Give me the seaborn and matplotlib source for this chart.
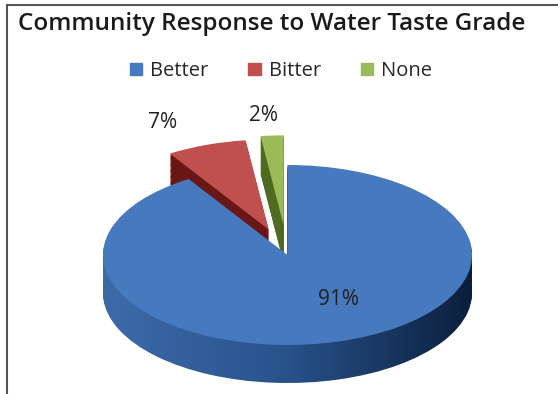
import numpy as np
import matplotlib.pyplot as plt
from matplotlib.lines import Line2D
from matplotlib.patches import Patch
from matplotlib.colors import LinearSegmentedColormap
import seaborn as sns

# Survey result: community response to water taste grade (percent)
labels = ['Better', 'Bitter', 'None']
shares = [91, 7, 2]

# styling
explode = [0.0, 0.3, 0.33]
top_colors = ['#4679BD', '#C0504D', '#9BBB59']
side_colors = ['#2A5288', '#6B1616', '#4F6B22']
label_dist = [0.57, 1.32, 1.23]
label_turn = [13, 6, 1.6]   # degrees, nudges label off the wedge middle

sns.set_theme(style='white')
plt.rcParams['font.family'] = ['Open Sans', 'DejaVu Sans']

fig = plt.figure(figsize=(5.58, 3.94), dpi=100)
ax = fig.add_axes([0, 0, 1, 1])

side_cmap = LinearSegmentedColormap.from_list('side', ['#3D6BAA', '#28528A', '#0B1F3D'])
grad = np.linspace(0, 1, 256).reshape(1, -1)

# fake 3D: stack darker copies of the pie downward, then the top face
depth = 38 / 90
n_layers = 32
for k in range(n_layers, 0, -1):
    z = 2 * (n_layers - k) + 1
    ws, _ = ax.pie(shares, explode=explode, colors=side_colors, startangle=90,
                   counterclock=False, center=(0, -depth * k / n_layers),
                   wedgeprops=dict(linewidth=0))
    for w in ws:
        w.set_zorder(z)
    # horizontal shading on the big slice's rim
    ws[0].set_facecolor('none')
    im = ax.imshow(grad, cmap=side_cmap, extent=(-1, 1, -2, 1.5), aspect='auto',
                   interpolation='bilinear', zorder=z + 0.5)
    im.set_clip_path(ws[0])

wedges, _ = ax.pie(shares, explode=explode, colors=top_colors, startangle=90,
                   counterclock=False, wedgeprops=dict(linewidth=0))
for w in wedges:
    w.set_zorder(2 * n_layers + 2)

for w, v, d, t in zip(wedges, shares, label_dist, label_turn):
    mid = np.deg2rad((w.theta1 + w.theta2) / 2 + t)
    cx, cy = w.center
    ax.text(cx + d * np.cos(mid), cy + d * np.sin(mid), f'{v}%',
            ha='center', va='center', fontsize=15, color='#222222',
            zorder=2 * n_layers + 5)

# squash circle into ellipse (tilted view)
ax.set_aspect('auto')
ax.set_xlim(-287.5 / 184.5, (558 - 287.5) / 184.5)
ax.set_ylim(-(394 - 255) / 90, 255 / 90)
ax.axis('off')

fig.text(271.5 / 558, 1 - 24 / 394, 'Community Response to Water Taste Grade',
         ha='center', va='center', fontsize=17.5, fontweight='semibold',
         color='#1a1a1a')

handles = [Patch(color=c) for c in top_colors]
fig.legend(handles, labels, loc='center', bbox_to_anchor=(281 / 558, 1 - 71 / 394),
           ncol=3, frameon=False, fontsize=14.5, handlelength=0.6, handleheight=0.6,
           columnspacing=2.0, handletextpad=0.4)

# chart border (top and left edges visible in the crop)
fig.add_artist(Line2D([7 / 558, 1], [1 - 5 / 394] * 2, transform=fig.transFigure,
                      color='#555555', lw=1.5))
fig.add_artist(Line2D([7 / 558] * 2, [0, 1 - 5 / 394], transform=fig.transFigure,
                      color='#555555', lw=1.5))

fig.savefig('out.png', dpi=100, facecolor='white')
plt.close(fig)
